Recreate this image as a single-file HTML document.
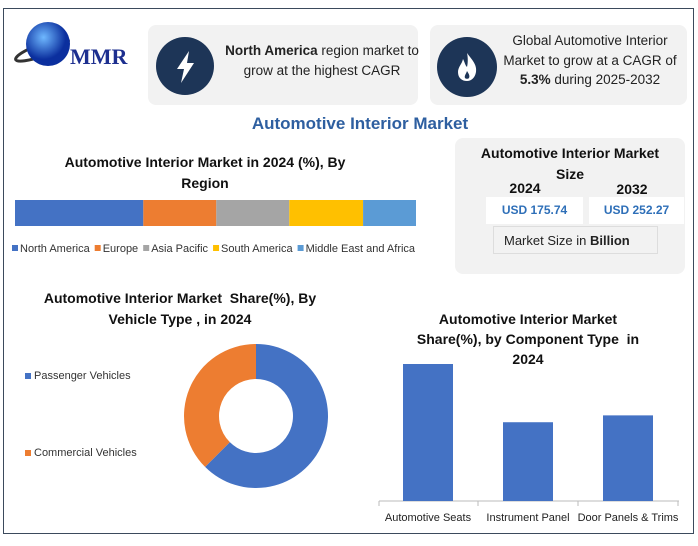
<!DOCTYPE html>
<html><head><meta charset="utf-8"><style>
body{margin:0;width:698px;height:546px;background:#fff;font-family:"Liberation Sans",sans-serif;position:relative;overflow:hidden}
.a{position:absolute}
.frame{left:3px;top:8px;width:689px;height:524px;border:1px solid #3b4a5c}
.card{background:#f2f2f2;border-radius:8px}
.t{font-weight:bold;color:#111;text-align:center}
</style></head><body>
<div class="a frame"></div>
<div class="a" style="left:12px;top:18px;width:130px;height:55px">
<svg width="130" height="55"><defs><radialGradient id="g" cx="40%" cy="35%"><stop offset="0" stop-color="#6fb8ff"/><stop offset="1" stop-color="#0b2f9e"/></radialGradient></defs>
<ellipse cx="30" cy="32" rx="28" ry="6" fill="none" stroke="#333" stroke-width="3" transform="rotate(-20 30 32)"/>
<circle cx="36" cy="26" r="22" fill="url(#g)"/>
<text x="58" y="46" font-family="Liberation Serif" font-weight="bold" font-size="22" fill="#1d2f8f">MMR</text></svg></div>
<div class="a card" style="left:148px;top:25px;width:270px;height:80px"></div>
<svg class="a" style="left:156px;top:37px" width="58" height="58"><circle cx="29" cy="29" r="29" fill="#1d3557"/><path d="M33 14 L21 32 L28 32 L25 46 L38 26 L31 26 Z" fill="#fff"/></svg>
<div class="a" style="left:222px;top:41px;width:200px;font-size:13.5px;line-height:20px;text-align:center;color:#222"><b>North America</b> region market to grow at the highest CAGR</div>
<div class="a card" style="left:430px;top:25px;width:257px;height:80px"></div>
<svg class="a" style="left:437px;top:37px" width="60" height="60"><circle cx="30" cy="30" r="30" fill="#1d3557"/><path d="M30 16 C36 24 40 28 39 35 C38 41 34 44 30 44 C25 44 21 41 21 35 C21 30 25 27 26 22 C28 26 28 28 30 30 C31 26 31 20 30 16 Z" fill="#fff"/><path d="M30 34 C32 37 33 39 32 41 C31 42 29 42 28 41 C27 39 29 37 30 34Z" fill="#1d3557"/></svg>
<div class="a" style="left:500px;top:31px;width:180px;font-size:13.5px;line-height:19.5px;text-align:center;color:#222">Global Automotive Interior Market to grow at a CAGR of <b>5.3%</b> during 2025-2032</div>
<div class="a" style="left:200px;top:114px;width:320px;text-align:center;font-size:17px;font-weight:bold;color:#2e5fa0">Automotive Interior Market</div>
<div class="a t" style="left:40px;top:152px;width:330px;font-size:14px;line-height:21px">Automotive Interior Market in 2024 (%), By Region</div>
<svg class="a" id="reg" style="left:0;top:190px" width="430" height="75"></svg>
<div class="a card" style="left:455px;top:138px;width:230px;height:136px"></div>
<div class="a t" style="left:470px;top:143px;width:200px;font-size:14px;line-height:21px">Automotive Interior Market Size</div>
<div class="a t" style="left:495px;top:180px;width:60px;font-size:14px">2024</div>
<div class="a t" style="left:602px;top:181px;width:60px;font-size:14px">2032</div>
<div class="a" style="left:486px;top:197px;width:97px;height:27px;background:#fff;color:#2e6fb8;font-weight:bold;font-size:12px;text-align:center;line-height:27px">USD 175.74</div>
<div class="a" style="left:589px;top:197px;width:95px;height:27px;background:#fff;color:#2e6fb8;font-weight:bold;font-size:12px;text-align:center;line-height:27px">USD 252.27</div>
<div class="a" style="left:493px;top:226px;width:165px;height:28px;border:1px solid #ddd;font-size:13px;line-height:28px;text-align:left;padding-left:10px;box-sizing:border-box;color:#222">Market Size in <b>Billion</b></div>
<div class="a t" style="left:30px;top:288px;width:300px;font-size:14px;line-height:21px">Automotive Interior Market&nbsp; Share(%), By Vehicle Type , in 2024</div>
<svg class="a" id="don" style="left:0;top:330px" width="360" height="180"></svg>
<div class="a t" style="left:412px;top:309px;width:232px;font-size:14px;line-height:20px">Automotive Interior Market Share(%), by Component Type&nbsp; in 2024</div>
<svg class="a" id="bar" style="left:370px;top:350px" width="320" height="180"></svg>
<script>
const regions=["North America","Europe","Asia Pacific","South America","Middle East and Africa"];
const regionValues=[32,18.2,18.2,18.4,13.2];
const regionColors=["#4472c4","#ed7d31","#a5a5a5","#ffc000","#5b9bd5"];
const vehicleTypes=["Passenger Vehicles","Commercial Vehicles"];
const vehicleValues=[62.5,37.5];
const components=["Automotive Seats","Instrument Panel","Door Panels & Trims"];
const componentValues=[40,23,25];
const NS="http://www.w3.org/2000/svg";
function mk(p,t,a){const e=document.createElementNS(NS,t);for(const k in a)e.setAttribute(k,a[k]);p.appendChild(e);return e;}
const reg=document.getElementById('reg');
const rTot=regionValues.reduce((a,b)=>a+b,0);const rx=v=>15+v/rTot*401;
let acc=0;
regionValues.forEach((v,i)=>{const r=mk(reg,'rect',{x:rx(acc),y:10,width:rx(acc+v)-rx(acc),height:26,fill:regionColors[i]});

acc+=v;});
let lx=12;
regions.forEach((n,i)=>{const s=mk(reg,'rect',{x:lx,y:55,width:6,height:6,fill:regionColors[i]});


const t=mk(reg,'text',{x:lx+8,y:62,'font-size':'11','fill':'#333','font-family':'Liberation Sans'});t.textContent=n;


lx+=8+t.getComputedTextLength()+5;});
const don=document.getElementById('don');const cx=256,cy=86,R=72,r0=37;
const dColors=["#4472c4","#ed7d31"];const dTot=vehicleValues.reduce((a,b)=>a+b,0);
let a0=0;
vehicleValues.forEach((v,i)=>{const a1=a0+v/dTot*2*Math.PI;const p=(a,rr)=>[cx+rr*Math.sin(a),cy-rr*Math.cos(a)];
const [x1,y1]=p(a0,R),[x2,y2]=p(a1,R),[x3,y3]=p(a1,r0),[x4,y4]=p(a0,r0);const lg=(a1-a0)>Math.PI?1:0;
const e=mk(don,'path',{d:`M${x1},${y1}A${R},${R} 0 ${lg} 1 ${x2},${y2}L${x3},${y3}A${r0},${r0} 0 ${lg} 0 ${x4},${y4}Z`,fill:dColors[i]});

a0=a1;});
vehicleTypes.forEach((n,i)=>{const y=49+i*77;const s=mk(don,'rect',{x:25,y:y-6,width:6,height:6,fill:dColors[i]});


const t=mk(don,'text',{x:34,y:y,'font-size':'11',fill:'#333','font-family':'Liberation Sans'});t.textContent=n;

});
const bar=document.getElementById('bar');const base=151,maxV=40,maxH=137;const bh=v=>v/maxV*maxH;
const ax=mk(bar,'line',{x1:9,y1:base,x2:309,y2:base,stroke:'#bbb'});


components.forEach((c,i)=>{const xc=58+i*100;
const b=mk(bar,'rect',{x:xc-25,y:base-bh(componentValues[i]),width:50,height:bh(componentValues[i]),fill:'#4472c4'});


const tk=mk(bar,'line',{x1:xc+50,y1:base,x2:xc+50,y2:base+5,stroke:'#bbb'});


const t=mk(bar,'text',{x:xc,y:base+20,'font-size':'11','text-anchor':'middle',fill:'#222','font-family':'Liberation Sans'});t.textContent=c;

});
const t0=mk(bar,'line',{x1:9,y1:base,x2:9,y2:base+5,stroke:'#bbb'});


</script>
</body></html>
